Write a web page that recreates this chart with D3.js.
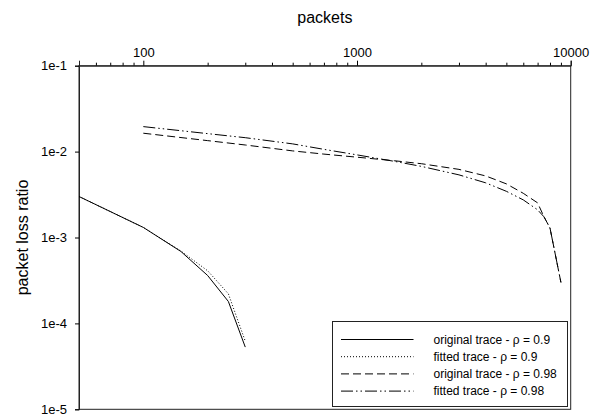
<!DOCTYPE html>
<html>
<head>
<meta charset="utf-8">
<script src="https://cdn.jsdelivr.net/npm/d3@7"></script>
<style>
  body { margin: 0; background: #fff; }
  svg text { font-family: "Liberation Sans", Arial, sans-serif; fill: #000; }
</style>
</head>
<body>
<svg id="chart" width="591" height="417"></svg>
<script>
// packets (x) and packet loss ratio (y)
const lowX = [50, 100, 150, 200, 250, 300]
const origLow = [3.0e-3, 1.31e-3, 6.87e-4, 3.61e-4, 1.80e-4, 5.3e-5]
const fitLow = [3.0e-3, 1.31e-3, 6.95e-4, 4.1e-4, 2.21e-4, 6.2e-5]

const highX = [100, 200, 300, 500, 700, 1000, 1500, 2000, 3000, 4000, 5000, 6000, 7000, 7500, 8000, 9000]
const origHigh = [0.01637, 0.01342, 0.01194, 0.01019, 0.00935, 0.00861, 0.00782, 0.00723,
  0.00621, 0.00521, 0.00421, 0.00327, 0.00253, 0.00174, 0.00129, 0.000300]
const fitHigh = [0.01954, 0.01619, 0.01452, 0.01230, 0.01062, 0.00916, 0.00769, 0.00673,
  0.00536, 0.00433, 0.00345, 0.00274, 0.00210, 0.00174, 0.00129, 0.000300]

const xMajor = [100, 1000, 10000]
const xMinor = [50, 60, 70, 80, 90, 200, 300, 400, 500, 600, 700, 800, 900,
  2000, 3000, 4000, 5000, 6000, 7000, 8000, 9000]
const yTicks = [1e-1, 1e-2, 1e-3, 1e-4, 1e-5]
const yLabels = ['1e-1', '1e-2', '1e-3', '1e-4', '1e-5']

const seriesNames = ['original trace - \u03c1 = 0.9', 'fitted trace - \u03c1 = 0.9',
  'original trace - \u03c1 = 0.98', 'fitted trace - \u03c1 = 0.98']
const dashes = [null, '1,2', '8,4', '12,3,1.5,3,1.5,3']

const margin = {top: 65.7, left: 79, right: 20.3, bottom: 7.7}
const width = 591 - margin.left - margin.right
const height = 417 - margin.top - margin.bottom

const svg = d3.select('#chart')
const g = svg.append('g').attr('transform', `translate(${margin.left},${margin.top})`)

const x = d3.scaleLog().domain([50, 10000]).range([0, width])
const y = d3.scaleLog().domain([1e-5, 1e-1]).range([height, 0])

// frame
g.append('rect')
  .attr('width', width)
  .attr('height', height)
  .attr('fill', 'none')
  .attr('stroke', '#222')
  .attr('stroke-width', 1)

// top axis: minor ticks then labelled majors
g.append('g')
  .call(d3.axisTop(x).tickValues(xMinor).tickSize(3).tickFormat(''))
  .call(a => a.select('.domain').remove())
g.append('g')
  .call(d3.axisTop(x).tickValues(xMajor).tickSize(5).tickPadding(4).tickFormat(d3.format('d')))
  .call(a => a.select('.domain').attr('stroke', '#222'))
  .selectAll('text').attr('font-size', 13)

g.append('g')
  .call(d3.axisLeft(y).tickValues(yTicks).tickSize(4).tickPadding(8)
    .tickFormat((d, i) => yLabels[i]))
  .call(a => a.select('.domain').attr('stroke', '#222'))
  .selectAll('text').attr('font-size', 13)

svg.append('text')
  .attr('x', margin.left + width / 2)
  .attr('y', 23)
  .attr('text-anchor', 'middle')
  .attr('font-size', 16)
  .text('packets')

svg.append('text')
  .attr('transform', `translate(28,${margin.top + height / 2}) rotate(-90)`)
  .attr('text-anchor', 'middle')
  .attr('font-size', 16)
  .text('packet loss ratio')

const line = d3.line().x(d => x(d[0])).y(d => y(d[1]))
const series = [
  lowX.map((v, i) => [v, origLow[i]]),
  lowX.map((v, i) => [v, fitLow[i]]),
  highX.map((v, i) => [v, origHigh[i]]),
  highX.map((v, i) => [v, fitHigh[i]])
]

g.append('g')
  .selectAll('path')
  .data(series)
  .enter()
  .append('path')
  .attr('fill', 'none')
  .attr('stroke', '#000')
  .attr('stroke-width', 1)
  .attr('stroke-dasharray', (d, i) => dashes[i])
  .attr('d', line)

// legend
const legend = svg.append('g').attr('transform', 'translate(332.5,321.5)')
legend.append('rect')
  .attr('width', 235)
  .attr('height', 85)
  .attr('fill', '#fff')
  .attr('stroke', '#222')
  .attr('stroke-width', 1)

const rows = legend.selectAll('g')
  .data(seriesNames)
  .enter()
  .append('g')
  .attr('transform', (d, i) => `translate(0,${18 + i * 17.2})`)
rows.append('line')
  .attr('x1', 8.5)
  .attr('x2', 81)
  .attr('stroke', '#000')
  .attr('stroke-width', 1)
  .attr('stroke-dasharray', (d, i) => dashes[i])
rows.append('text')
  .attr('x', 101)
  .attr('dy', '0.35em')
  .attr('font-size', 12)
  .text(d => d)
</script>
</body>
</html>
